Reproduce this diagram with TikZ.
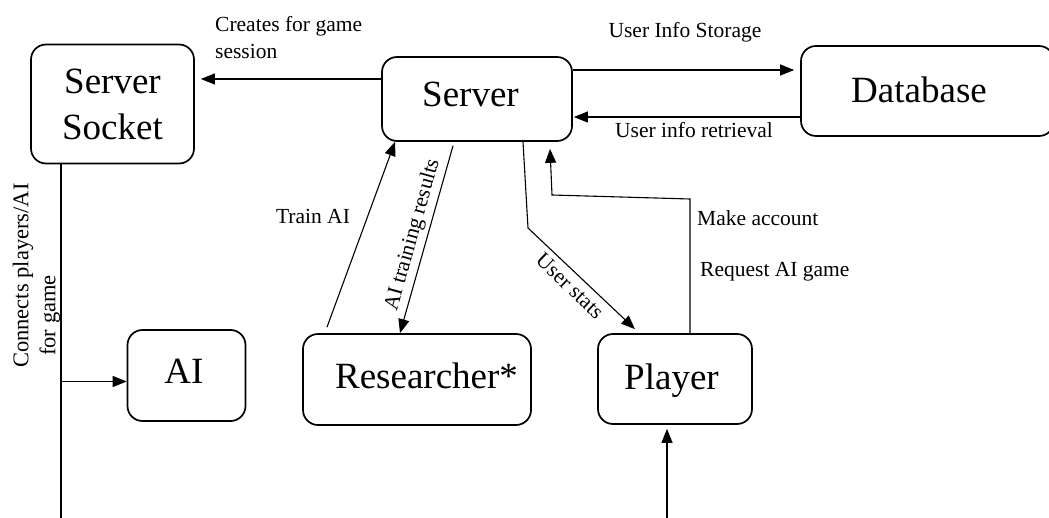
\documentclass[tikz,border=0pt]{standalone}
\usepackage{fontspec}
\setmainfont{Liberation Serif}
\usetikzlibrary{arrows.meta,calc}
\begin{document}
\begin{tikzpicture}[x=1pt,y=-1pt,
 box/.style={draw, line width=1.7pt, rounded corners=15pt, inner sep=0pt, font=\fontsize{37}{46}\selectfont, align=center},
 conn/.style={line width=1.1pt},
 arr/.style={conn, -{Triangle[length=14pt,width=11pt]}},
 lbl/.style={font=\fontsize{21.5}{26.5}\selectfont, inner sep=0pt}]
\useasboundingbox (0,0) rectangle (1049,518);
% boxes
\node[box, minimum width=163pt, minimum height=119pt] (sock) at (112.5,104) {Server\\Socket};
\node[box, minimum width=190pt, minimum height=84pt, text height=25pt, text depth=9pt] (server) at (477,99) {Server\hspace*{13pt}};
\node[box, minimum width=253pt, minimum height=90pt, text height=25pt, text depth=1.5pt] (db) at (927.5,91) {Database\hspace*{17pt}};
\node[box, minimum width=118pt, minimum height=91pt, text height=25pt, text depth=10pt] (ai) at (186.5,375.5) {AI\hspace*{5pt}};
\node[box, minimum width=228pt, minimum height=91pt, text height=25pt, text depth=7pt] (res) at (417,379.5) {\hspace*{19pt}Researcher*};
\node[box, minimum width=154pt, minimum height=90pt, text height=25pt, text depth=5pt] (player) at (675,379) {Player\hspace*{7pt}};
% server -> socket
\draw[arr] ([yshift=20pt]server.west) -- ([xshift=6pt,yshift=25pt]sock.east);
\node[lbl, align=left, anchor=north west] (lcreate) at (215,16.5) {Creates for game\\session};
% server <-> database
\draw[arr] ([yshift=29pt]server.east) -- ([xshift=-6pt,yshift=21pt]db.west);
\node[lbl, anchor=base] (lstore) at (685,37.5) {User Info Storage};
\draw[arr] ([yshift=-26pt]db.west) -- ([xshift=1pt,yshift=-18pt]server.east);
\node[lbl, anchor=base] (lretr) at (694,138) {User info retrieval};
% socket line and AI
\coordinate (sockend) at (61,518);
\draw[conn] ([xshift=-51.5pt]sock.south) -- (sockend);
\coordinate (aiin) at ([yshift=-6pt]ai.west);
\draw[arr] (aiin -| sockend) -- (aiin);
\node[lbl, font=\fontsize{22.5}{27}\selectfont, rotate=90, align=left, anchor=north west] (lconn) at (12.5,368) {Connects players/AI\\\hspace*{12pt}for game};
% researcher <-> server
\draw[arr] ([xshift=-90pt,yshift=6pt]res.north) -- ([xshift=-82pt]server.south);
\node[lbl, anchor=base] (ltrain) at (313,224) {Train AI};
\draw[arr] ([xshift=-24pt,yshift=-4pt]server.south) -- ([xshift=-17pt]res.north);
\node[lbl, rotate=74.3] (ltrres) at (413,235) {AI training results};
% user stats
\coordinate (usb) at (528,228);
\draw[arr] ([xshift=46pt]server.south) -- (usb) -- ([xshift=-40pt,yshift=4pt]player.north);
\node[lbl, rotate=-43.6] (lus) at (570,286) {User stats};
% make account / request AI game
\coordinate (ma1) at (690,199);
\coordinate (ma2) at (552,195);
\draw[arr] ([xshift=15pt]player.north) -- (ma1) -- (ma2) -- ([xshift=73pt,yshift=-7pt]server.south);
\node[lbl, anchor=base west] (lmake) at (697,226) {Make account};
\node[lbl, anchor=base west] (lreq) at (700,277) {Request AI game};
% player bottom
\coordinate (plend) at (667,518);
\draw[arr] (plend) -- ([xshift=-8pt,yshift=-4pt]player.south);
\end{tikzpicture}
\end{document}
